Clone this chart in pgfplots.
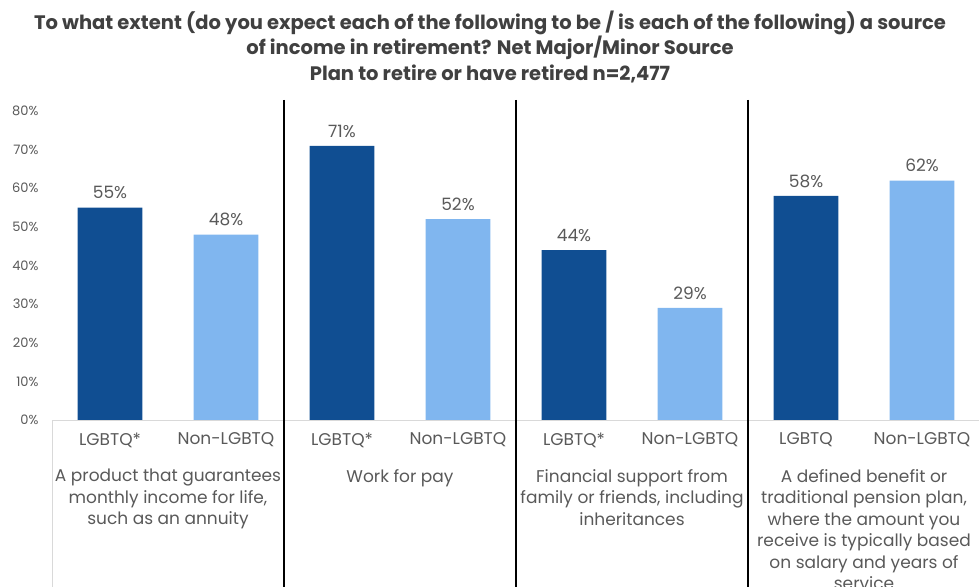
\documentclass[border=0pt]{standalone}
\usepackage{pgfplots}
\pgfplotsset{compat=1.18}
\usepackage{fontspec}
\setmainfont{Poppins}
\definecolor{darkbar}{RGB}{16,78,146}
\definecolor{lightbar}{RGB}{128,182,239}
\definecolor{txt}{RGB}{89,89,89}
\definecolor{ttl}{RGB}{64,64,64}
\definecolor{gridgray}{RGB}{217,217,217}

\begin{document}
\begin{tikzpicture}
\begin{axis}[
  scale only axis,
  width=928bp, height=309bp,
  xmin=0.5, xmax=8.5,
  ymin=0, ymax=80,
  ytick={0,10,...,80},
  yticklabel={\pgfmathprintnumber{\tick}\%},
  yticklabel style={font=\fontsize{13bp}{15bp}\selectfont, text=txt, xshift=-10bp},
  /pgf/number format/assume math mode=true,
  xtick={1,...,8},
  xticklabels={LGBTQ*,Non-LGBTQ,LGBTQ*,Non-LGBTQ,LGBTQ*,Non-LGBTQ,LGBTQ,Non-LGBTQ},
  xticklabel style={font=\fontsize{17bp}{20bp}\selectfont, text=txt, yshift=-5bp},
  axis line style={draw=none},
  tick style={draw=none},
  ybar, bar width=0.56, bar shift=0pt,
  nodes near coords={\pgfmathprintnumber{\pgfplotspointmeta}\%},
  nodes near coords style={font=\fontsize{17bp}{20bp}\selectfont, text=txt, yshift=5bp},
  clip=false,
]
\addplot[fill=darkbar, draw=none] coordinates {(1,55) (3,71) (5,44) (7,58)};
\addplot[fill=lightbar, draw=none] coordinates {(2,48) (4,52) (6,29) (8,62)};
\draw[gridgray, line width=1bp] (rel axis cs:0,0) -- (rel axis cs:1,0);
\end{axis}
% left line below axis and group separators
\draw[gridgray, line width=1bp] (0,0) -- (0,-167bp);
\foreach \x in {232,464,696} \draw[black, line width=1.6bp] (\x bp,320bp) -- (\x bp,-167bp);
% group labels
\begin{scope}[every node/.style={font=\fontsize{17bp}{21.5bp}\selectfont, text=txt, align=center, anchor=north, inner sep=0pt}]
\node at (116bp,-49bp) {A product that guarantees\\monthly income for life,\\such as an annuity};
\node at (348bp,-49bp) {Work for pay};
\node at (580bp,-49bp) {Financial support from\\family or friends, including\\inheritances};
\node at (812bp,-49bp) {A defined benefit or\\traditional pension plan,\\where the amount you\\receive is typically based\\on salary and years of\\service};
\end{scope}
% title
\begin{scope}[every node/.style={font=\bfseries\fontsize{19.5bp}{22bp}\selectfont, text=ttl, inner sep=0pt}]
\node at (438bp,397bp) {To what extent (do you expect each of the following to be / is each of the following) a source};
\node at (438bp,372bp) {of income in retirement? Net Major/Minor Source};
\node at (438bp,346bp) {Plan to retire or have retired n=2,477};
\end{scope}
\pgfresetboundingbox
\path[use as bounding box] (-52bp,-167bp) rectangle (927bp,420bp);
\end{tikzpicture}
\end{document}
